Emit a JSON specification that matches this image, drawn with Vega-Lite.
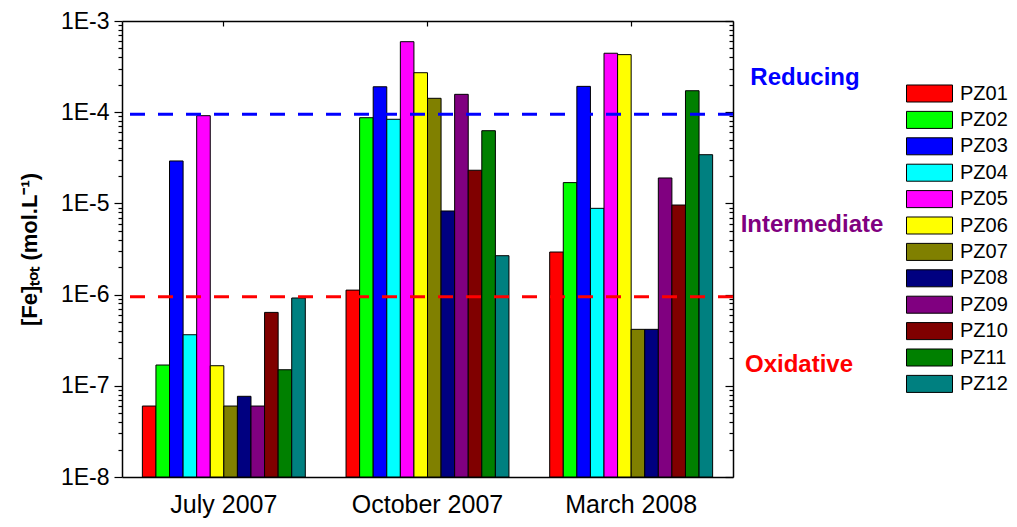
{
  "$schema": "https://vega.github.io/schema/vega-lite/v6.json",
  "width": 611,
  "height": 456,
  "autosize": {"type": "none"},
  "padding": {"left": 122, "top": 21, "right": 284, "bottom": 50},
  "background": "white",
  "config": {
    "font": "Liberation Sans",
    "view": {"stroke": null},
    "axis": {"domainColor": "black", "domainWidth": 1.5, "tickColor": "black", "tickWidth": 1.2, "labelColor": "black", "titleColor": "black", "grid": false, "labelFont": "Liberation Sans", "titleFont": "Liberation Sans"}
  },
  "datasets": {
    "fe": [
      {"month": "July 2007", "pz": "PZ01", "fe": 6.0e-8},
      {"month": "July 2007", "pz": "PZ02", "fe": 1.69e-7},
      {"month": "July 2007", "pz": "PZ03", "fe": 2.92e-5},
      {"month": "July 2007", "pz": "PZ04", "fe": 3.63e-7},
      {"month": "July 2007", "pz": "PZ05", "fe": 9.16e-5},
      {"month": "July 2007", "pz": "PZ06", "fe": 1.66e-7},
      {"month": "July 2007", "pz": "PZ07", "fe": 6.0e-8},
      {"month": "July 2007", "pz": "PZ08", "fe": 7.67e-8},
      {"month": "July 2007", "pz": "PZ09", "fe": 6.0e-8},
      {"month": "July 2007", "pz": "PZ10", "fe": 6.38e-7},
      {"month": "July 2007", "pz": "PZ11", "fe": 1.5e-7},
      {"month": "July 2007", "pz": "PZ12", "fe": 9.18e-7},
      {"month": "October 2007", "pz": "PZ01", "fe": 1.12e-6},
      {"month": "October 2007", "pz": "PZ02", "fe": 8.7e-5},
      {"month": "October 2007", "pz": "PZ03", "fe": 1.9e-4},
      {"month": "October 2007", "pz": "PZ04", "fe": 8.36e-5},
      {"month": "October 2007", "pz": "PZ05", "fe": 5.93e-4},
      {"month": "October 2007", "pz": "PZ06", "fe": 2.71e-4},
      {"month": "October 2007", "pz": "PZ07", "fe": 1.42e-4},
      {"month": "October 2007", "pz": "PZ08", "fe": 8.26e-6},
      {"month": "October 2007", "pz": "PZ09", "fe": 1.57e-4},
      {"month": "October 2007", "pz": "PZ10", "fe": 2.31e-5},
      {"month": "October 2007", "pz": "PZ11", "fe": 6.27e-5},
      {"month": "October 2007", "pz": "PZ12", "fe": 2.67e-6},
      {"month": "March 2008", "pz": "PZ01", "fe": 2.93e-6},
      {"month": "March 2008", "pz": "PZ02", "fe": 1.69e-5},
      {"month": "March 2008", "pz": "PZ03", "fe": 1.92e-4},
      {"month": "March 2008", "pz": "PZ04", "fe": 8.83e-6},
      {"month": "March 2008", "pz": "PZ05", "fe": 4.43e-4},
      {"month": "March 2008", "pz": "PZ06", "fe": 4.28e-4},
      {"month": "March 2008", "pz": "PZ07", "fe": 4.16e-7},
      {"month": "March 2008", "pz": "PZ08", "fe": 4.16e-7},
      {"month": "March 2008", "pz": "PZ09", "fe": 1.9e-5},
      {"month": "March 2008", "pz": "PZ10", "fe": 9.6e-6},
      {"month": "March 2008", "pz": "PZ11", "fe": 1.72e-4},
      {"month": "March 2008", "pz": "PZ12", "fe": 3.42e-5}
    ]
  },
  "layer": [
    {
      "data": {"name": "fe"},
      "mark": {"type": "bar", "stroke": "black", "strokeWidth": 1},
      "encoding": {
        "x": {"field": "month", "type": "nominal", "sort": ["July 2007", "October 2007", "March 2008"],
          "scale": {"paddingInner": 0.2, "paddingOuter": 0.1},
          "axis": {"orient": "bottom", "title": null, "labelAngle": 0, "labelFontSize": 25, "tickSize": -5, "labelPadding": 20, "domainWidth": 1.5}},
        "xOffset": {"field": "pz", "type": "nominal", "scale": {"paddingInner": 0, "paddingOuter": 0}},
        "y": {"field": "fe", "type": "quantitative",
          "scale": {"type": "log", "domain": [1e-8, 1e-3], "nice": false},
          "axis": {
            "orient": "left",
            "title": "[Fe]ₜₒₜ (mol.L⁻¹)",
            "titleFontSize": 22, "titleFontWeight": "bold", "titlePadding": 19,
            "labelFontSize": 23, "labelPadding": 5,
            "values": [1e-8,2e-8,3e-8,4e-8,5e-8,6e-8,7e-8,8e-8,9e-8,1e-7,2e-7,3e-7,4e-7,5e-7,6e-7,7e-7,8e-7,9e-7,1e-6,2e-6,3e-6,4e-6,5e-6,6e-6,7e-6,8e-6,9e-6,1e-5,2e-5,3e-5,4e-5,5e-5,6e-5,7e-5,8e-5,9e-5,1e-4,2e-4,3e-4,4e-4,5e-4,6e-4,7e-4,8e-4,9e-4,1e-3],
            "labelExpr": "abs(log(datum.value)/LN10 - round(log(datum.value)/LN10)) < 0.001 ? '1E' + round(log(datum.value)/LN10) : ''",
            "tickSize": {"condition": {"test": "abs(log(datum.value)/LN10 - round(log(datum.value)/LN10)) < 0.001", "value": 8}, "value": 4}
          }},
        "y2": {"datum": 1e-8},
        "color": {"field": "pz", "type": "nominal",
          "scale": {"domain": ["PZ01","PZ02","PZ03","PZ04","PZ05","PZ06","PZ07","PZ08","PZ09","PZ10","PZ11","PZ12"],
            "range": ["#ff0000","#00ff00","#0000ff","#00ffff","#ff00ff","#ffff00","#808000","#000080","#800080","#800000","#008000","#008080"]},
          "legend": {"title": null, "orient": "none", "legendX": 784, "legendY": 60.5, "padding": 0,
            "symbolType": "M-1,-0.74H3V0.74H-1Z", "symbolSize": 529, "symbolStrokeColor": "black", "symbolStrokeWidth": 1, "symbolOpacity": 1,
            "labelFontSize": 20, "labelFont": "Liberation Sans", "labelColor": "black", "labelOffset": 30, "rowPadding": 3.4}}
      }
    },
    {
      "data": {"name": "fe"},
      "mark": {"type": "bar", "opacity": 0},
      "encoding": {
        "x": {"field": "month", "type": "nominal", "sort": ["July 2007", "October 2007", "March 2008"],
          "axis": {"orient": "top", "title": null, "labels": false, "tickSize": -5}},
        "xOffset": {"field": "pz", "type": "nominal"},
        "y": {"field": "fe", "type": "quantitative",
          "axis": {
            "orient": "right", "title": null, "labels": false,
            "values": [1e-8,2e-8,3e-8,4e-8,5e-8,6e-8,7e-8,8e-8,9e-8,1e-7,2e-7,3e-7,4e-7,5e-7,6e-7,7e-7,8e-7,9e-7,1e-6,2e-6,3e-6,4e-6,5e-6,6e-6,7e-6,8e-6,9e-6,1e-5,2e-5,3e-5,4e-5,5e-5,6e-5,7e-5,8e-5,9e-5,1e-4,2e-4,3e-4,4e-4,5e-4,6e-4,7e-4,8e-4,9e-4,1e-3],
            "tickSize": {"condition": {"test": "abs(log(datum.value)/LN10 - round(log(datum.value)/LN10)) < 0.001", "value": -8}, "value": -4}
          }},
        "y2": {"datum": 1e-8}
      }
    },
    {
      "data": {"values": [{"level": 9.5e-5}]},
      "mark": {"type": "rule", "color": "#0000ff", "strokeWidth": 3, "strokeDash": [15, 13]},
      "encoding": {"y": {"field": "level", "type": "quantitative", "axis": null}}
    },
    {
      "data": {"values": [{"level": 9.5e-7}]},
      "mark": {"type": "rule", "color": "#ff0000", "strokeWidth": 3, "strokeDash": [15, 13]},
      "encoding": {"y": {"field": "level", "type": "quantitative", "axis": null}}
    },
    {
      "data": {"values": [{"label": "Reducing", "level": 2.37e-4}]},
      "mark": {"type": "text", "color": "#0000ff", "fontSize": 24, "fontWeight": "bold", "font": "Liberation Sans", "align": "center", "baseline": "middle", "dx": 72},
      "encoding": {"x": {"value": "width"}, "y": {"field": "level", "type": "quantitative", "axis": null}, "text": {"field": "label"}}
    },
    {
      "data": {"values": [{"label": "Intermediate", "level": 5.8e-6}]},
      "mark": {"type": "text", "color": "#800080", "fontSize": 24, "fontWeight": "bold", "font": "Liberation Sans", "align": "center", "baseline": "middle", "dx": 79},
      "encoding": {"x": {"value": "width"}, "y": {"field": "level", "type": "quantitative", "axis": null}, "text": {"field": "label"}}
    },
    {
      "data": {"values": [{"label": "Oxidative", "level": 1.69e-7}]},
      "mark": {"type": "text", "color": "#ff0000", "fontSize": 24, "fontWeight": "bold", "font": "Liberation Sans", "align": "center", "baseline": "middle", "dx": 66},
      "encoding": {"x": {"value": "width"}, "y": {"field": "level", "type": "quantitative", "axis": null}, "text": {"field": "label"}}
    }
  ],
  "resolve": {"axis": {"x": "independent", "y": "independent"}}
}
